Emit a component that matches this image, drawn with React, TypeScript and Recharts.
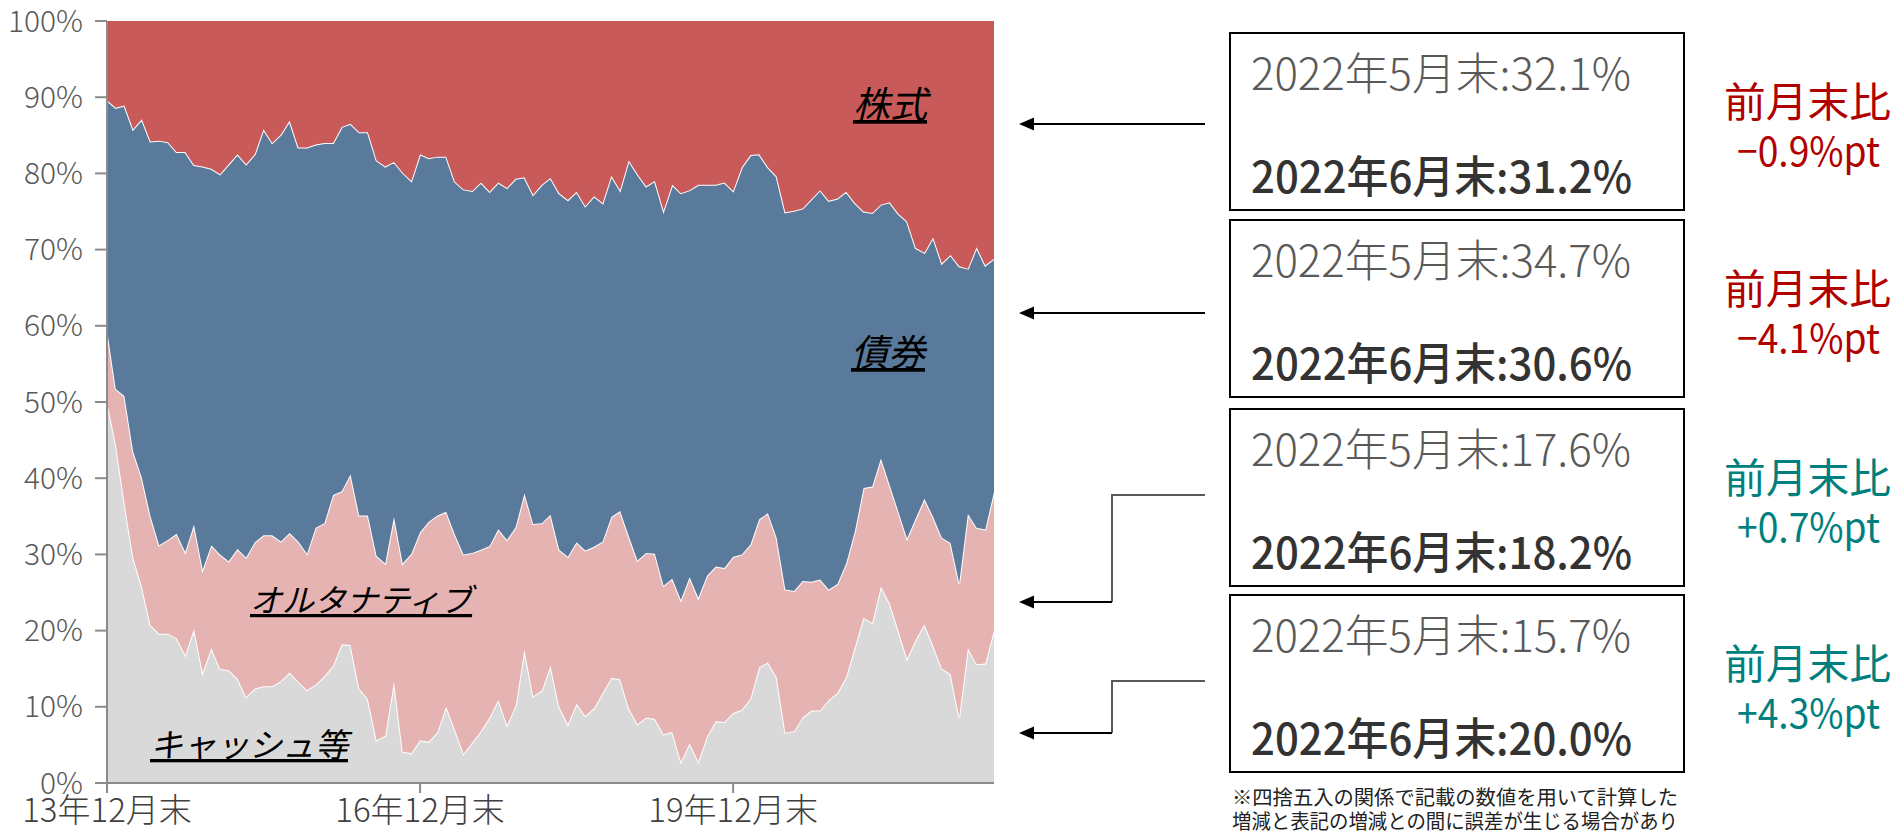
import React from 'react';
import { AreaChart, Area, XAxis, YAxis } from 'recharts';

const FONT = "'Noto Sans CJK JP', 'Noto Sans', sans-serif";

const months: string[] = [
  '13年12月末',
  '14年1月末', '14年2月末', '14年3月末', '14年4月末', '14年5月末', '14年6月末', '14年7月末', '14年8月末', '14年9月末', '14年10月末', '14年11月末', '14年12月末',
  '15年1月末', '15年2月末', '15年3月末', '15年4月末', '15年5月末', '15年6月末', '15年7月末', '15年8月末', '15年9月末', '15年10月末', '15年11月末', '15年12月末',
  '16年1月末', '16年2月末', '16年3月末', '16年4月末', '16年5月末', '16年6月末', '16年7月末', '16年8月末', '16年9月末', '16年10月末', '16年11月末', '16年12月末',
  '17年1月末', '17年2月末', '17年3月末', '17年4月末', '17年5月末', '17年6月末', '17年7月末', '17年8月末', '17年9月末', '17年10月末', '17年11月末', '17年12月末',
  '18年1月末', '18年2月末', '18年3月末', '18年4月末', '18年5月末', '18年6月末', '18年7月末', '18年8月末', '18年9月末', '18年10月末', '18年11月末', '18年12月末',
  '19年1月末', '19年2月末', '19年3月末', '19年4月末', '19年5月末', '19年6月末', '19年7月末', '19年8月末', '19年9月末', '19年10月末', '19年11月末', '19年12月末',
  '20年1月末', '20年2月末', '20年3月末', '20年4月末', '20年5月末', '20年6月末', '20年7月末', '20年8月末', '20年9月末', '20年10月末', '20年11月末', '20年12月末',
  '21年1月末', '21年2月末', '21年3月末', '21年4月末', '21年5月末', '21年6月末', '21年7月末', '21年8月末', '21年9月末', '21年10月末', '21年11月末', '21年12月末',
  '22年1月末', '22年2月末', '22年3月末', '22年4月末', '22年5月末', '22年6月末',
];

// キャッシュ等 (%)
const cash: number[] = [
  50.0, 44.5, 36.8, 29.6, 25.8, 20.7, 19.6, 19.6, 19.0, 16.8,
  20.2, 14.5, 17.7, 15.0, 14.8, 13.7, 11.3, 12.4, 12.7, 12.7,
  13.4, 14.5, 13.3, 12.2, 12.9, 14.0, 15.4, 18.2, 18.1, 12.4,
  11.0, 5.6, 6.2, 13.3, 4.1, 3.9, 5.6, 5.4, 6.7, 10.0,
  7.0, 3.8, 5.3, 6.8, 8.6, 10.9, 7.6, 10.1, 17.5, 11.4,
  12.1, 15.4, 10.0, 7.7, 10.4, 8.8, 9.8, 11.8, 13.8, 13.6,
  9.8, 7.7, 8.6, 8.4, 6.4, 6.7, 2.8, 5.2, 2.8, 6.1,
  8.1, 8.0, 9.2, 9.6, 11.1, 15.2, 15.8, 13.9, 6.6, 6.8,
  8.6, 9.5, 9.5, 10.9, 11.8, 13.9, 17.8, 21.7, 21.0, 25.8,
  23.6, 20.0, 16.3, 18.8, 20.8, 18.0, 15.0, 14.3, 8.6, 17.7,
  15.6, 15.7, 20.0,
];

// オルタナティブ (%)
const alt: number[] = [
  9.5, 7.2, 14.0, 13.9, 14.3, 14.3, 11.6, 12.3, 13.7, 13.5,
  13.7, 13.5, 13.5, 15.0, 14.3, 17.0, 18.3, 19.2, 19.8, 19.8,
  18.3, 18.3, 18.4, 17.9, 20.6, 20.1, 22.4, 20.1, 22.4, 22.7,
  24.1, 24.2, 22.6, 21.6, 24.7, 26.2, 27.3, 28.9, 28.4, 25.6,
  25.6, 26.2, 24.9, 23.8, 22.5, 22.4, 24.3, 23.5, 20.5, 22.6,
  22.0, 19.8, 20.6, 22.0, 21.2, 21.7, 21.2, 19.9, 21.1, 22.1,
  22.6, 21.5, 21.6, 21.7, 19.5, 20.1, 21.2, 21.8, 21.5, 21.1,
  20.3, 20.2, 20.5, 20.4, 20.2, 19.4, 19.6, 18.3, 18.8, 18.4,
  17.9, 16.9, 17.2, 14.5, 14.3, 14.9, 15.2, 17.0, 17.9, 16.8,
  15.5, 15.6, 15.8, 15.9, 16.5, 16.9, 17.2, 17.2, 17.6, 17.6,
  17.9, 17.6, 18.2,
];

// 債券 (%)
const bond: number[] = [
  30.1, 36.9, 38.1, 42.3, 47.0, 49.2, 53.1, 52.2, 50.1, 52.5,
  47.2, 52.9, 49.4, 49.9, 52.1, 51.8, 51.6, 50.9, 53.3, 51.5,
  53.4, 54.1, 51.7, 53.3, 50.3, 49.9, 46.2, 47.8, 46.0, 50.3,
  50.3, 51.9, 52.1, 46.6, 51.3, 48.9, 49.6, 47.7, 47.1, 46.6,
  46.3, 47.9, 47.5, 48.2, 46.5, 45.5, 46.2, 45.7, 41.5, 43.2,
  44.4, 44.2, 46.8, 46.8, 46.0, 45.2, 46.0, 44.4, 44.8, 42.1,
  49.3, 50.7, 48.1, 48.9, 49.2, 51.7, 53.4, 50.8, 54.2, 51.3,
  50.1, 50.6, 48.0, 50.8, 51.1, 47.9, 45.4, 47.4, 49.5, 49.9,
  48.9, 50.2, 51.1, 51.0, 50.6, 48.8, 43.1, 36.3, 35.9, 33.3,
  37.1, 39.1, 41.6, 35.5, 32.3, 36.7, 36.0, 37.8, 41.6, 32.2,
  36.8, 34.7, 30.6,
];

// 株式 (%)
const stock: number[] = [
  10.4, 11.4, 11.1, 14.2, 12.9, 15.8, 15.7, 15.9, 17.2, 17.2,
  18.9, 19.1, 19.4, 20.1, 18.8, 17.5, 18.8, 17.5, 14.2, 16.0,
  14.9, 13.1, 16.6, 16.6, 16.2, 16.0, 16.0, 13.9, 13.5, 14.6,
  14.6, 18.3, 19.1, 18.5, 19.9, 21.0, 17.5, 18.0, 17.8, 17.8,
  21.1, 22.1, 22.3, 21.2, 22.4, 21.2, 21.9, 20.7, 20.5, 22.8,
  21.5, 20.6, 22.6, 23.5, 22.4, 24.3, 23.0, 23.9, 20.3, 22.2,
  18.3, 20.1, 21.7, 21.0, 24.9, 21.5, 22.6, 22.2, 21.5, 21.5,
  21.5, 21.2, 22.3, 19.2, 17.6, 17.5, 19.2, 20.4, 25.1, 24.9,
  24.6, 23.4, 22.2, 23.6, 23.3, 22.4, 23.9, 25.0, 25.2, 24.1,
  23.8, 25.3, 26.3, 29.8, 30.4, 28.4, 31.8, 30.7, 32.2, 32.5,
  29.7, 32.1, 31.2,
];

const yTicks: number[] = [0, 0.1, 0.2, 0.3, 0.4, 0.5, 0.6, 0.7, 0.8, 0.9, 1];

const mayLabels: string[] = ['2022年5月末:32.1%', '2022年5月末:34.7%', '2022年5月末:17.6%', '2022年5月末:15.7%'];
const junLabels: string[] = ['2022年6月末:31.2%', '2022年6月末:30.6%', '2022年6月末:18.2%', '2022年6月末:20.0%'];
const changeLabels: string[] = ['−0.9%pt', '−4.1%pt', '+0.7%pt', '+4.3%pt'];
const changeColors: string[] = ['#B00000', '#B00000', '#007F7F', '#007F7F'];
const footnote: string[] = [
  '※四捨五入の関係で記載の数値を用いて計算した',
  '増減と表記の増減との間に誤差が生じる場合があり',
  'ます。',
];

const data = months.map((m, i) => ({
  month: m,
  cash: cash[i],
  alt: alt[i],
  bond: bond[i],
  stock: stock[i],
}));

const boxTops = [33, 220, 409, 595];
const BOX_H = 177;

function Arrow({ y, x1, x2, color }: { y: number; x1: number; x2: number; color: string }) {
  return (
    <g>
      <line x1={x1} y1={y} x2={x2 + 12} y2={y} stroke={color} strokeWidth={2} />
      <polygon points={`${x2},${y} ${x2 + 15},${y - 6.5} ${x2 + 15},${y + 6.5}`} fill={color} />
    </g>
  );
}

const labelStyle: React.CSSProperties = {
  fontFamily: FONT,
  fontStyle: 'italic',
  textDecoration: 'underline',
};

export default function App() {
  return (
    <div style={{ position: 'relative', width: 1000, height: 824 }}>
      <AreaChart
        width={1000}
        height={824}
        data={data}
        stackOffset="expand"
        margin={{ top: 13, right: 14, left: 0, bottom: 4 }}
      >
        <XAxis
          dataKey="month"
          interval={35}
          height={45}
          tickSize={10}
          tickMargin={6}
          axisLine={{ stroke: '#8c8c8c', strokeWidth: 2 }}
          tickLine={{ stroke: '#8c8c8c', strokeWidth: 2 }}
          tick={{ fontSize: 33, fill: '#404040', fontFamily: FONT, fontWeight: 300 }}
        />
        <YAxis
          width={99}
          domain={[0, 1]}
          ticks={yTicks}
          interval={0}
          tickFormatter={(v: number) => `${Math.round(v * 100)}%`}
          tickSize={12}
          tickMargin={12}
          axisLine={{ stroke: '#8c8c8c', strokeWidth: 2 }}
          tickLine={{ stroke: '#8c8c8c', strokeWidth: 2 }}
          tick={{ fontSize: 30, fill: '#595959', fontFamily: FONT, fontWeight: 300 }}
        />
        <Area type="linear" dataKey="cash" stackId="1" fill="#D9D9D9" fillOpacity={1} stroke="#ffffff" strokeWidth={2} isAnimationActive={false} />
        <Area type="linear" dataKey="alt" stackId="1" fill="#E6B3B3" fillOpacity={1} stroke="#ffffff" strokeWidth={2} isAnimationActive={false} />
        <Area type="linear" dataKey="bond" stackId="1" fill="#5A7A9C" fillOpacity={1} stroke="#ffffff" strokeWidth={2} isAnimationActive={false} />
        <Area type="linear" dataKey="stock" stackId="1" fill="#C95A5A" fillOpacity={1} stroke="none" isAnimationActive={false} />
      </AreaChart>

      <svg
        width={1903}
        height={840}
        style={{ position: 'absolute', left: -8, top: -8, pointerEvents: 'none', overflow: 'hidden' }}
      >
        {/* area labels */}
        <text x={853} y={118} fontSize={37} fill="#000" style={labelStyle}>株式</text>
        <text x={851} y={366} fontSize={37} fill="#000" style={labelStyle}>債券</text>
        <text x={250} y={612} fontSize={32} fill="#000" style={labelStyle}>オルタナティブ</text>
        <text x={150} y={757} fontSize={33} fill="#000" style={labelStyle}>キャッシュ等</text>

        {/* arrows */}
        <Arrow y={124} x1={1205} x2={1019} color="#000" />
        <Arrow y={313} x1={1205} x2={1019} color="#000" />
        <polyline points="1205,495 1112,495 1112,602" fill="none" stroke="#595959" strokeWidth={2} />
        <Arrow y={602} x1={1112} x2={1019} color="#000" />
        <polyline points="1205,681 1112,681 1112,733" fill="none" stroke="#595959" strokeWidth={2} />
        <Arrow y={733} x1={1112} x2={1019} color="#000" />

        {/* boxes */}
        {boxTops.map((t, k) => (
          <g key={k}>
            <rect x={1230} y={t} width={454} height={BOX_H} fill="#fff" stroke="#000" strokeWidth={2} />
            <text
              x={1251}
              y={t + 57}
              fontSize={44}
              fill="#595959"
              fontFamily={FONT}
              fontWeight={300}
              textLength={380}
              lengthAdjust="spacingAndGlyphs"
            >
              {mayLabels[k]}
            </text>
            <text
              x={1251}
              y={t + 160}
              fontSize={44}
              fill="#333333"
              fontFamily={FONT}
              fontWeight={500}
              textLength={381}
              lengthAdjust="spacingAndGlyphs"
            >
              {junLabels[k]}
            </text>
            <text
              x={1724}
              y={t + 84}
              fontSize={41}
              fill={changeColors[k]}
              fontFamily={FONT}
              textLength={167}
              lengthAdjust="spacingAndGlyphs"
            >
              前月末比
            </text>
            <text
              x={1737}
              y={t + 133}
              fontSize={40}
              fill={changeColors[k]}
              fontFamily={FONT}
              textLength={143}
              lengthAdjust="spacingAndGlyphs"
            >
              {changeLabels[k]}
            </text>
          </g>
        ))}

        {/* footnote */}
        {footnote.map((s, k) => (
          <text
            key={k}
            x={1232}
            y={805 + k * 24}
            fontSize={20}
            fill="#222"
            fontFamily={FONT}
            {...(k < 2 ? { textLength: 446, lengthAdjust: 'spacingAndGlyphs' } : {})}
          >
            {s}
          </text>
        ))}
      </svg>
    </div>
  );
}
